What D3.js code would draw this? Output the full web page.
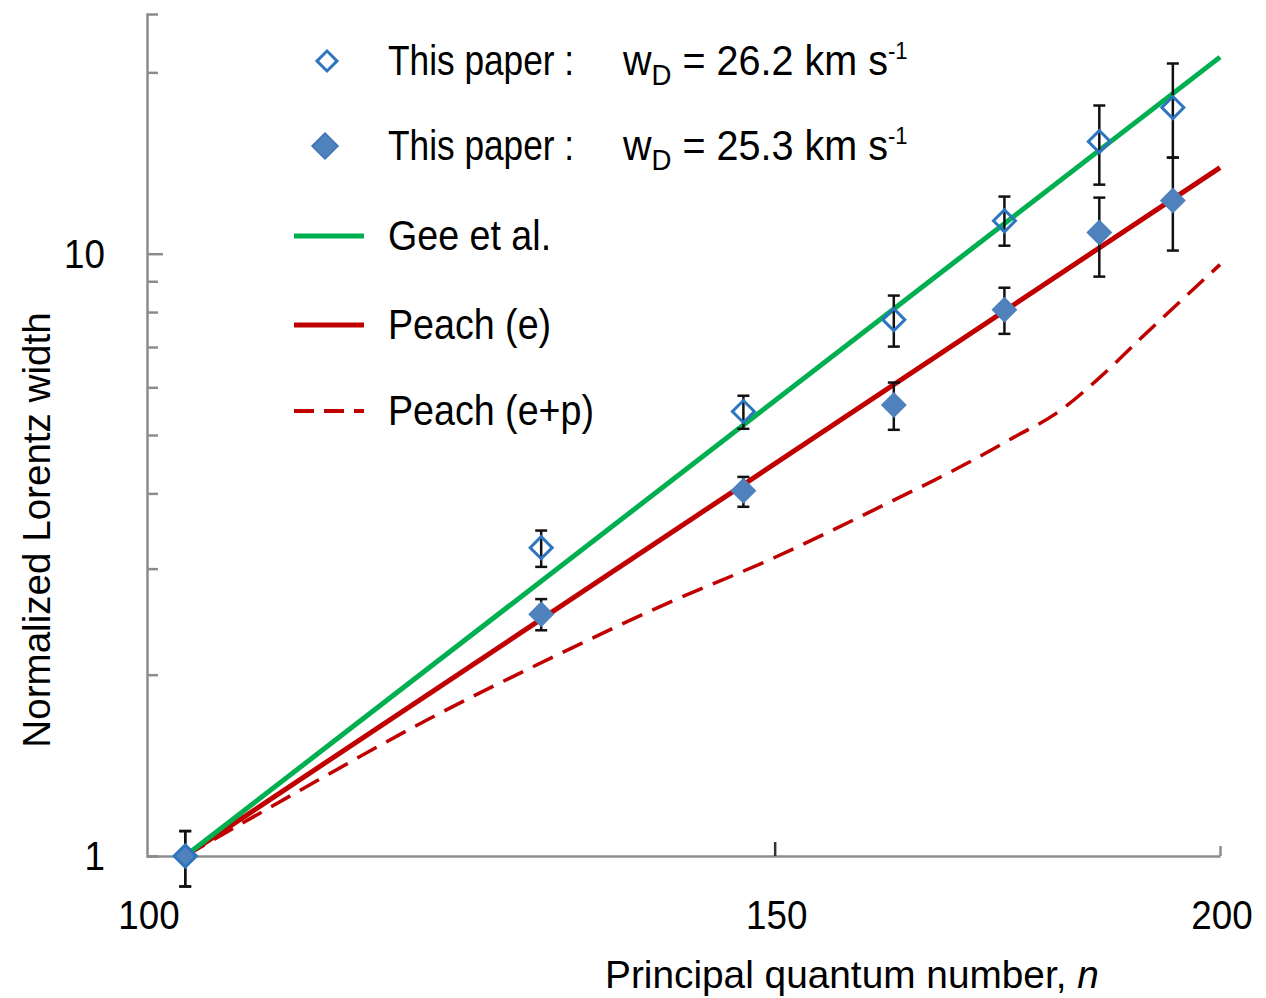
<!DOCTYPE html>
<html>
<head>
<meta charset="utf-8">
<script src="https://cdn.jsdelivr.net/npm/d3@7"></script>
<style>
  html, body { margin: 0; padding: 0; background: #ffffff; }
  svg { display: block; }
  text { font-family: "Liberation Sans", Arial, sans-serif; fill: #000; }
</style>
</head>
<body>
<svg id="chart" width="1266" height="998"></svg>
<script>
// ---------------- data ----------------
const nValues      = [102.5, 129, 147, 162, 174, 185, 194];
const openValues   = [1.00, 3.25, 5.47, 7.77, 11.34, 15.35, 17.48];   // w_D = 26.2
const openLow      = [0.89, 3.02, 5.12, 7.01, 10.31, 13.02, 14.44];
const openHigh     = [1.10, 3.47, 5.81, 8.52, 12.44, 17.62, 20.69];
const filledValues = [1.00, 2.52, 4.04, 5.61, 8.07, 10.84, 12.25];    // w_D = 25.3
const filledLow    = [0.89, 2.37, 3.80, 5.10, 7.36, 9.16, 10.12];
const filledHigh   = [1.10, 2.67, 4.26, 6.11, 8.78, 12.39, 14.44];

const geeN   = [102.5, 200];
const gee    = [1.00, 21.2];
const peachEN = [102.5, 200];
const peachE  = [1.00, 13.9];
const peachEPN = [102.5, 110, 120, 130, 140, 150, 160, 170, 175, 180, 185, 190, 200];
const peachEP  = [1.00, 1.27, 1.69, 2.14, 2.63, 3.13, 3.76, 4.50, 4.95, 5.44, 6.22, 7.23, 9.59];

const xTicks = [100, 150, 200];
const xTickLabels = ["100", "150", "200"];
const yTicks = [1, 2, 3, 4, 5, 6, 7, 8, 9, 10, 20];
const yTickLabels = {1: "1", 10: "10"};

const legendItems = [
  {kind: "open",   label: "This paper :", wd: "26.2"},
  {kind: "filled", label: "This paper :", wd: "25.3"},
  {kind: "gee",    label: "Gee et al."},
  {kind: "pe",     label: "Peach (e)"},
  {kind: "pep",    label: "Peach (e+p)"}
];

// ---------------- style ----------------
const GREEN = "#00B050", RED = "#C00000", BLUE_FILL = "#4F81BD", BLUE_LINE = "#2E75C0", AXIS = "#8c8c8c";

const svg = d3.select("#chart");
const x = d3.scaleLog().domain([100, 200]).range([147, 1220]);
const y = d3.scaleLog().domain([1, 25]).range([856, 14]);

function txt(g, px, py, s, size, anchor, sx) {
  return g.append("text")
    .attr("transform", `translate(${px},${py}) scale(${sx},1)`)
    .attr("font-size", size)
    .attr("text-anchor", anchor)
    .text(s);
}

// ---------------- axes ----------------
const yAxis = d3.axisLeft(y).tickValues(yTicks).tickFormat("").tickSize(-11).tickSizeOuter(-11);
const gy = svg.append("g").attr("transform", "translate(147,0)").call(yAxis);
gy.select(".domain").attr("stroke", AXIS).attr("stroke-width", 2.5);
gy.selectAll(".tick line").attr("stroke", AXIS).attr("stroke-width", 2.5)
  .attr("x2", d => d === 10 ? 16 : 11);

const xAxis = d3.axisBottom(x).tickValues(xTicks).tickFormat("").tickSizeOuter(0);
const gx = svg.append("g").attr("transform", "translate(0,856)").call(xAxis);
gx.select(".domain").attr("stroke", AXIS).attr("stroke-width", 2.5);
gx.selectAll(".tick line").attr("stroke", (d) => d === 150 ? "#333" : AXIS).attr("stroke-width", 2.5)
  .attr("y2", d => d === 150 ? -14 : d === 200 ? -10 : 0);

// tick labels
xTicks.forEach((t, i) => txt(svg, x(t) + 2, 929, xTickLabels[i], 40, "middle", 0.92));
yTicks.filter(t => yTickLabels[t]).forEach(t => txt(svg, 105, y(t) + 14, yTickLabels[t], 40, "end", 0.92));

// axis titles
svg.append("text")
  .attr("transform", "translate(50,530) rotate(-90)")
  .attr("font-size", 38.6).attr("text-anchor", "middle")
  .text("Normalized Lorentz width");
const xt = svg.append("text").attr("x", 605).attr("y", 988).attr("font-size", 38.8);
xt.append("tspan").text("Principal quantum number, ");
xt.append("tspan").attr("font-style", "italic").text("n");

// ---------------- lines ----------------
const line = d3.line().x(d => x(d[0])).y(d => y(d[1]));
const curve = d3.line().x(d => x(d[0])).y(d => y(d[1])).curve(d3.curveMonotoneX);

svg.append("path").datum(peachEPN.map((n, i) => [n, peachEP[i]]))
  .attr("d", curve).attr("fill", "none").attr("stroke", RED)
  .attr("stroke-width", 3.5).attr("stroke-dasharray", "22,11");
svg.append("path").datum(peachEN.map((n, i) => [n, peachE[i]]))
  .attr("d", line).attr("fill", "none").attr("stroke", RED).attr("stroke-width", 5);
svg.append("path").datum(geeN.map((n, i) => [n, gee[i]]))
  .attr("d", line).attr("fill", "none").attr("stroke", GREEN).attr("stroke-width", 5);

// ---------------- error bars ----------------
function errorBars(lo, hi) {
  const g = svg.append("g").attr("stroke", "#111").attr("stroke-width", 2.5);
  nValues.forEach((n, i) => {
    const cx = x(n);
    g.append("line").attr("x1", cx).attr("x2", cx).attr("y1", y(lo[i])).attr("y2", y(hi[i]));
    g.append("line").attr("x1", cx - 6).attr("x2", cx + 6).attr("y1", y(lo[i])).attr("y2", y(lo[i]));
    g.append("line").attr("x1", cx - 6).attr("x2", cx + 6).attr("y1", y(hi[i])).attr("y2", y(hi[i]));
  });
}
errorBars(openLow, openHigh);
errorBars(filledLow, filledHigh);

// ---------------- markers ----------------
const diamond = (half) => d3.symbol().type(d3.symbolSquare).size(2 * half * half)();
svg.append("g").selectAll("path").data(nValues.map((n, i) => [n, filledValues[i]]))
  .join("path").attr("d", diamond(13))
  .attr("transform", d => `translate(${x(d[0])},${y(d[1])}) rotate(45)`)
  .attr("fill", BLUE_FILL);
svg.append("g").selectAll("path").data(nValues.map((n, i) => [n, openValues[i]]))
  .join("path").attr("d", diamond(11))
  .attr("transform", d => `translate(${x(d[0])},${y(d[1])}) rotate(45)`)
  .attr("fill", "none").attr("stroke", BLUE_LINE).attr("stroke-width", 3);

// ---------------- legend ----------------
const legendRows = [61, 146, 236, 325, 411];
const lg = svg.append("g");
legendItems.forEach((it, i) => {
  const cy = legendRows[i];
  if (it.kind === "open") {
    lg.append("path").attr("d", diamond(10)).attr("transform", `translate(327,${cy}) rotate(45)`)
      .attr("fill", "none").attr("stroke", BLUE_LINE).attr("stroke-width", 3);
  } else if (it.kind === "filled") {
    lg.append("path").attr("d", diamond(13)).attr("transform", `translate(325,${cy}) rotate(45)`)
      .attr("fill", BLUE_FILL).attr("stroke", "#3f73b8").attr("stroke-width", 1.5);
  } else {
    lg.append("line").attr("x1", 294).attr("x2", 364).attr("y1", cy).attr("y2", cy)
      .attr("stroke", it.kind === "gee" ? GREEN : RED)
      .attr("stroke-width", it.kind === "pep" ? 4 : 5)
      .attr("stroke-dasharray", it.kind === "pep" ? "20,10" : null);
  }
  const base = cy + 14;
  txt(lg, 388, base, it.label, 43, "start", it.wd ? 0.82 : 0.875);
  if (it.wd) {
    const t = lg.append("text")
      .attr("transform", `translate(623,${base}) scale(0.92,1)`)
      .attr("font-size", 43);
    t.append("tspan").text("w");
    t.append("tspan").attr("font-size", 30).attr("dy", 10).text("D");
    t.append("tspan").attr("dy", -10).text(" = " + it.wd + " km s");
    t.append("tspan").attr("font-size", 24).attr("dy", -16).text("-1");
  }
});
</script>
</body>
</html>
